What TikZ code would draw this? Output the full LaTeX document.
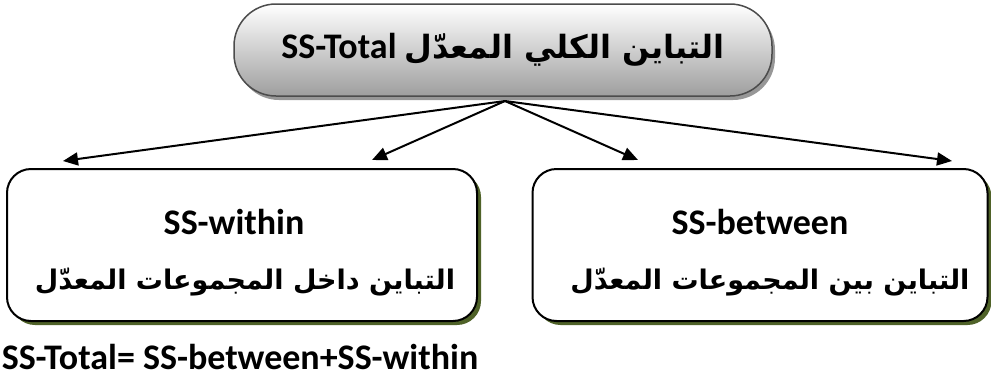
\documentclass[tikz,border=0pt]{standalone}
\usepackage{fontspec}
\setmainfont{Carlito}
\newfontfamily\arabicfont[Script=Arabic]{DejaVu Sans}
\TeXXeTstate=1
\usetikzlibrary{arrows.meta,shadows}
\definecolor{olive}{HTML}{4F6228}
\tikzset{
  topbox/.style={draw=black!70, line width=1.5pt, rounded corners=42pt,
    minimum width=538pt, minimum height=92pt, top color=white, bottom color=black!38,
    drop shadow={shadow xshift=3pt, shadow yshift=-4pt, fill=black!45, opacity=0.9}},
  subbox/.style={draw=black, line width=2pt, rounded corners=24pt, fill=white,
    drop shadow={shadow xshift=4pt, shadow yshift=-4pt, fill=olive, opacity=1}},
  arr/.style={line width=2pt, -{Triangle[length=15pt,width=13pt]}},
  lat/.style={font=\fontsize{36}{40}\selectfont\bfseries, inner sep=0pt},
  arab/.style={font=\fontsize{27}{34}\selectfont\arabicfont\bfseries, inner sep=0pt},
}
\begin{document}
\begin{tikzpicture}[x=1pt,y=-1pt]
\useasboundingbox (0,0) rectangle (991,378);
\node[topbox] (top) at (503,50) {};
\node[inner sep=0pt, font=\fontsize{36}{40}\selectfont\bfseries] (toptext) at (503,50)
  {SS-Total\ {\fontsize{32}{38}\selectfont\arabicfont\bfseries\beginR التباين الكلي المعدّل\endR}};
\node[subbox, minimum width=470pt, minimum height=152pt] (within) at (242,245) {};
\node[subbox, minimum width=455pt, minimum height=152pt] (between) at (760,245) {};
\node[lat] (wlat) at (234,222) {SS-within};
\node[arab] (warab) at (245,282) {\beginR التباين داخل المجموعات المعدّل\endR};
\node[lat] (blat) at (760,222) {SS-between};
\node[arab] (barab) at (770,282) {\beginR التباين بين المجموعات المعدّل\endR};
\node[lat] (eq) at (240,357) {SS-Total= SS-between+SS-within};
\coordinate (src) at (505,101);
\coordinate (t1) at (63,161);
\coordinate (t2) at (372,160);
\coordinate (t3) at (638,160);
\coordinate (t4) at (952,161);
\draw[arr] (src) -- (t1);
\draw[arr] (src) -- (t2);
\draw[arr] (src) -- (t3);
\draw[arr] (src) -- (t4);
\end{tikzpicture}
\end{document}
